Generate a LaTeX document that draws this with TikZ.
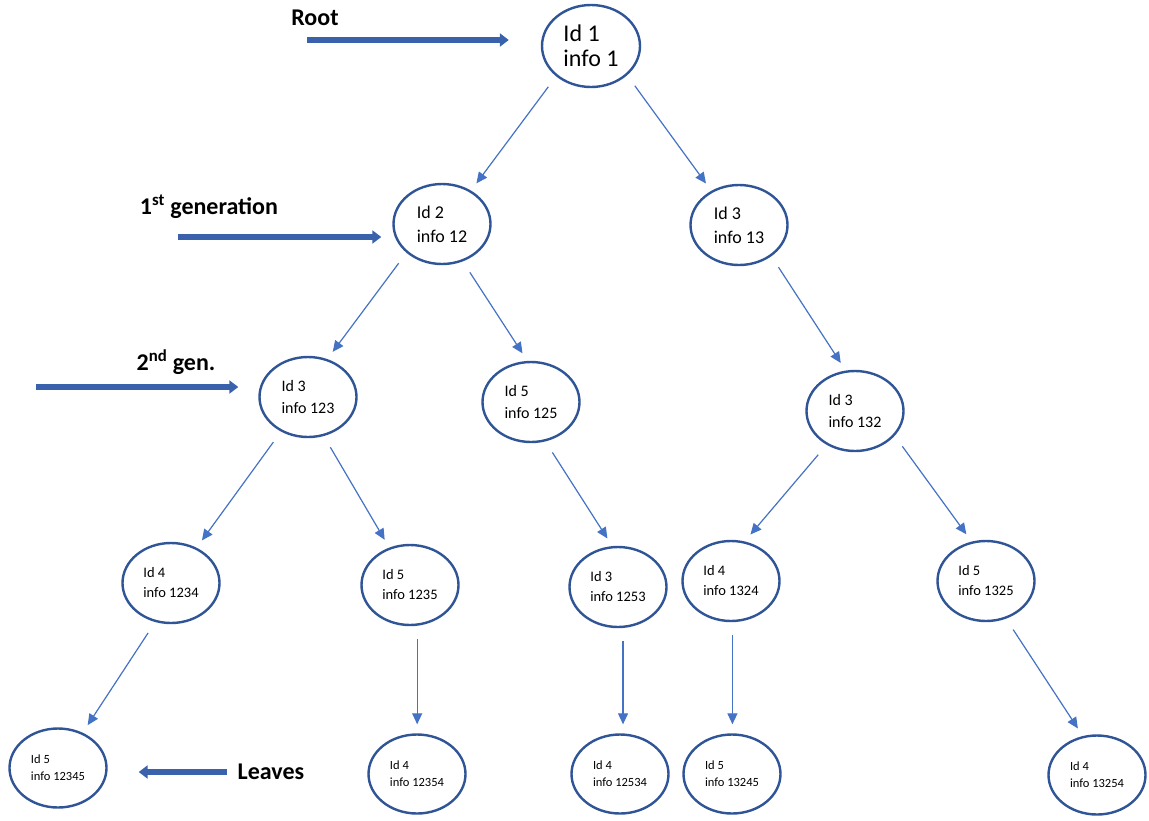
\documentclass[tikz,border=0pt]{standalone}
\usepackage{fontspec}
\setmainfont{Carlito}
\usetikzlibrary{shapes.geometric,arrows.meta}

\definecolor{nodeblue}{HTML}{2F5597}
\definecolor{edgeblue}{HTML}{4472C4}
\definecolor{levelblue}{HTML}{3A62AC}

\begin{document}
\begin{tikzpicture}[x=1pt, y=-1pt,
    % Styles
    person/.style={ellipse, draw=nodeblue, line width=2.4pt, fill=white, inner sep=0pt, align=left, minimum width=97pt, minimum height=80pt},
    gen0/.style={person, minimum width=98pt, minimum height=82pt, font=\fontsize{24}{25}\selectfont},
    gen1/.style={person, font=\fontsize{18}{24}\selectfont},
    gen2/.style={person, font=\fontsize{16}{22}\selectfont},
    gen3/.style={person, font=\fontsize{14.5}{20}\selectfont},
    leaf/.style={person, minimum height=79pt, font=\fontsize{12.5}{17}\selectfont},
    child-arrow/.style={-{Triangle[length=11pt,width=10pt]}, line width=1.2pt, edgeblue, shorten <=13pt, shorten >=9pt},
    level-arrow/.style={-{Triangle[length=9pt,width=13pt]}, line width=5.5pt, levelblue},
    level-label/.style={font=\fontsize{24}{28}\selectfont\bfseries},
]
\useasboundingbox (0,0) rectangle (1149,820);

% Root
\node[gen0] (n1) at (591,46) {Id 1\\info 1};

% 1st generation
\node[gen1] (n12) at (442,224) {Id 2\\info 12};
\node[gen1] (n13) at (739,225) {Id 3\\info 13};

% 2nd generation
\node[gen2] (n123) at (308,397) {Id 3\\info 123};
\node[gen2] (n125) at (531,402) {Id 5\\info 125};
\node[gen2] (n132) at (855,411) {Id 3\\info 132};

% 3rd generation
\node[gen3] (n1234) at (171,583) {Id 4\\info 1234};
\node[gen3] (n1235) at (410,585) {Id 5\\info 1235};
\node[gen3] (n1253) at (618,587) {Id 3\\info 1253};
\node[gen3] (n1324) at (731,581) {Id 4\\info 1324};
\node[gen3] (n1325) at (986,581) {Id 5\\info 1325};

% Leaves
\node[leaf] (n12345) at (58,768) {Id 5\\info 12345};
\node[leaf] (n12354) at (417,774) {Id 4\\info 12354};
\node[leaf] (n12534) at (620,774) {Id 4\\info 12534};
\node[leaf] (n13245) at (732,774) {Id 5\\info 13245};
\node[leaf] (n13254) at (1097,775) {Id 4\\info 13254};

% Parent -> child
\draw[child-arrow] (n1.221) -- (n12.49);
\draw[child-arrow] (n1.321) -- (n13.129);
\draw[child-arrow] (n12.219) -- (n123.63);
\draw[child-arrow] (n12.299) -- (n125.95);
\draw[child-arrow] (n13.316) -- (n132.103);
\draw[child-arrow] (n123.232) -- (n1234.54);
\draw[child-arrow] (n123.292) -- (n1235.119);
\draw[child-arrow] (n125.290) -- (n1253.98);
\draw[child-arrow] (n132.230) -- (n1324.71);
\draw[child-arrow] (n132.328) -- (n1325.110);
\draw[child-arrow] (n1234.248) -- (n12345.55);
\draw[child-arrow] (n1235.280) -- (n1235.280 |- n12354.north);
\draw[child-arrow] (n1253.277) -- (n1253.277 |- n12534.north);
\draw[child-arrow] (n1324.272) -- (n1324.272 |- n13245.north);
\draw[child-arrow] (n1325.298) -- (n13254.110);

% Level labels
\node[level-label] (rootlbl) at (315,18) {Root};
\node[level-label] (gen1lbl) at (209,207) {1\textsuperscript{st} generation};
\node[level-label] (gen2lbl) at (176,362) {2\textsuperscript{nd} gen.};
\node[level-label] (leaveslbl) at (271,772) {Leaves};

\coordinate (rootarrow) at (307,40);
\coordinate (gen1arrow) at (178,237);
\coordinate (gen2arrow) at (36,387);
\coordinate (leavesarrow) at (227,772);

\draw[level-arrow, shorten >=32pt] (rootarrow) -- (rootarrow -| n1.west);
\draw[level-arrow, shorten >=11pt] (gen1arrow) -- (gen1arrow -| n12.west);
\draw[level-arrow, shorten >=20pt] (gen2arrow) -- (gen2arrow -| n123.west);
\draw[level-arrow, shorten >=31pt] (leavesarrow) -- (leavesarrow -| n12345.east);

\end{tikzpicture}
\end{document}
